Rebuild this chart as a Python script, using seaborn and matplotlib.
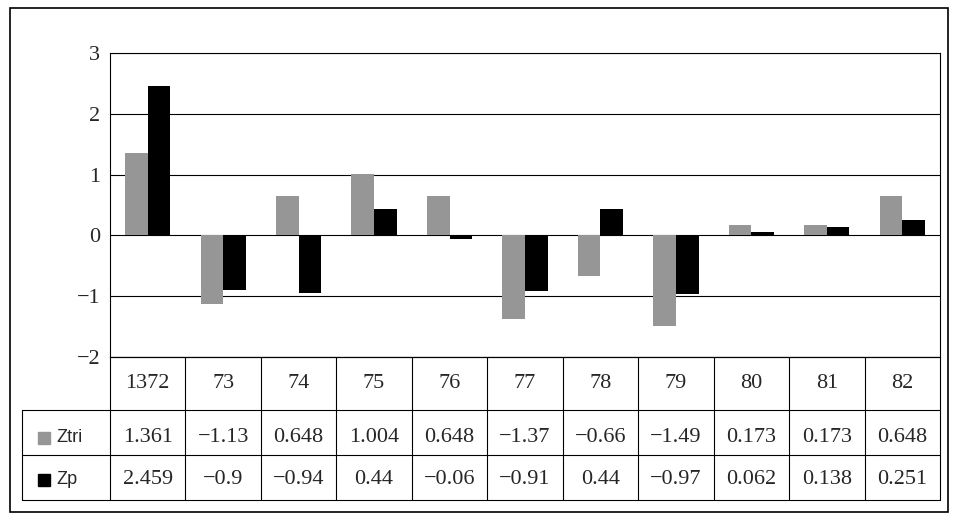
import pandas as pd
import matplotlib.pyplot as plt
import seaborn as sns
from matplotlib.patches import Rectangle

years = ['1372', '73', '74', '75', '76', '77', '78', '79', '80', '81', '82']
ztri = [1.361, -1.13, 0.648, 1.004, 0.648, -1.37, -0.66, -1.49, 0.173, 0.173, 0.648]
zp = [2.459, -0.9, -0.94, 0.44, -0.06, -0.91, 0.44, -0.97, 0.062, 0.138, 0.251]
ztri_txt = ['1.361', '−1.13', '0.648', '1.004', '0.648', '−1.37', '−0.66', '−1.49', '0.173', '0.173', '0.648']
zp_txt = ['2.459', '−0.9', '−0.94', '0.44', '−0.06', '−0.91', '0.44', '−0.97', '0.062', '0.138', '0.251']

df = pd.DataFrame({'year': years * 2, 'val': ztri + zp,
                   'serie': ['Ztri'] * 11 + ['Zp'] * 11})

sns.set_style('white')
plt.rcParams['font.family'] = ['Liberation Serif', 'DejaVu Serif']

W, H = 957, 519
fig = plt.figure(figsize=(9.57, 5.19), dpi=100)
# borda externa
fig.patches.append(Rectangle((10 / W, 1 - 512 / H), 938 / W, 504 / H, transform=fig.transFigure,
                             fill=False, edgecolor='black', linewidth=1.2))

ax = fig.add_axes([110 / W, 1 - 357 / H, 830 / W, 304 / H])
sns.barplot(data=df, x='year', y='val', hue='serie', palette=['#969696', '#000000'],
            width=0.6, ax=ax, legend=False, saturation=1, linewidth=0, edgecolor='none')
ax.set_ylim(-2, 3)
ax.set_xlim(-0.5, 10.5)
ax.set_yticks(range(-2, 4))
ax.set_yticklabels(['−2', '−1', '0', '1', '2', '3'], fontsize=16)
ax.set_xticks([])
ax.set_xlabel('')
ax.set_ylabel('')
ax.grid(axis='y', color='black', linewidth=0.8)
ax.set_axisbelow(True)
for s in ax.spines.values():
    s.set_color('black')
    s.set_linewidth(0.8)

# tabela de dados
tab = fig.add_axes([22 / W, 1 - 500 / H, 918 / W, 143 / H])
tab.set_xlim(22, 940)
tab.set_ylim(500, 357)
tab.axis('off')
x0 = 110
cw = 830 / 11
for y in [357, 410, 455, 500]:
    tab.plot([x0 if y == 357 else 22, 940], [y, y], color='black', lw=0.8, clip_on=False)
tab.plot([22, 22], [410, 500], color='black', lw=0.8, clip_on=False)
for i in range(12):
    tab.plot([x0 + i * cw] * 2, [357, 500], color='black', lw=0.8, clip_on=False)
for i in range(11):
    cx = x0 + (i + 0.5) * cw
    tab.text(cx, 383, years[i], ha='center', va='center', fontsize=16)
    tab.text(cx, 438, ztri_txt[i], ha='center', va='center', fontsize=16)
    tab.text(cx, 480, zp_txt[i], ha='center', va='center', fontsize=16)
tab.add_patch(Rectangle((38, 432), 12, 12, color='#969696'))
tab.add_patch(Rectangle((38, 474), 12, 12, color='black'))
tab.text(56, 438, 'Ztri', va='center', fontsize=13, family='Liberation Sans')
tab.text(56, 480, 'Zp', va='center', fontsize=13, family='Liberation Sans')

fig.savefig('out.png', dpi=100)
